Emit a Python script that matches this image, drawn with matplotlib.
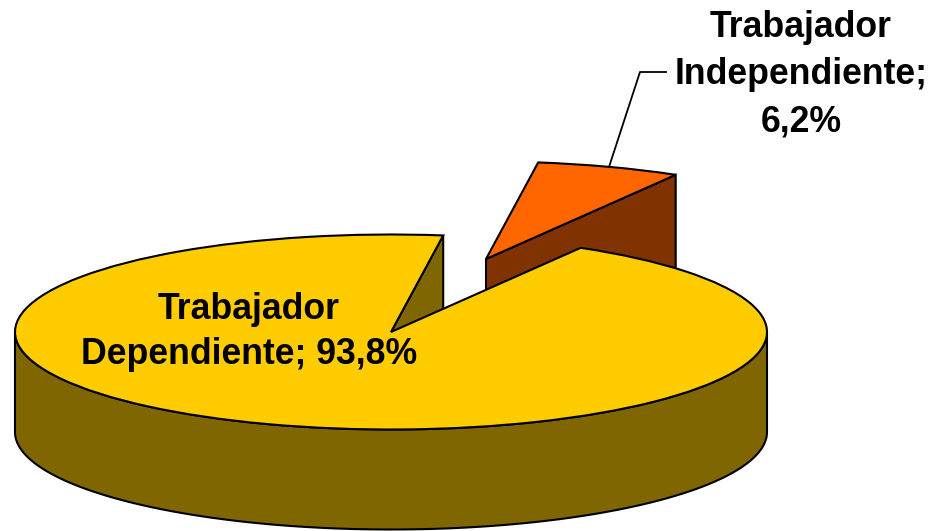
import numpy as np
import matplotlib
matplotlib.use('Agg')
import matplotlib.pyplot as plt
from matplotlib.patches import Wedge, Polygon
from matplotlib.transforms import Affine2D

labels = ['Trabajador\nDependiente; 93,8%', 'Trabajador\nIndependiente;\n6,2%']
values = [93.8, 6.2]
colors_top = ['#FFCC00', '#FF6600']
colors_side = ['#806600', '#803300']

plt.rcParams['font.family'] = ['Liberation Sans', 'DejaVu Sans']

# pie geometry in pixels
cx, cy = 391, 332
rx, ry = 376, 97.5
depth = 100
start = 59.7
explode = (95, -73)


def rim(a, ox=0, oy=0):
    a = np.radians(a)
    return np.column_stack([cx + ox + rx * np.cos(a), cy + oy - ry * np.sin(a)])


def top(a1, a2, color, ox=0, oy=0):
    # y axis is inverted, so flip the unit circle
    tr = Affine2D().scale(rx, -ry).translate(cx + ox, cy + oy) + ax.transData
    ax.add_patch(Wedge((0, 0), 1, a1, a2, transform=tr, fc=color, ec='black', lw=1.5))


def wall(a, color, ox=0, oy=0):
    p = rim(a, ox, oy)[0]
    c = (cx + ox, cy + oy)
    pts = [c, p, (p[0], p[1] + depth), (c[0], c[1] + depth)]
    ax.add_patch(Polygon(pts, fc=color, ec='black', lw=1.5))


fig = plt.figure(figsize=(9.34, 5.31), dpi=100)
ax = fig.add_axes([0, 0, 1, 1])
ax.set_xlim(0, 934)
ax.set_ylim(531, 0)
ax.axis('off')

sweep = np.array(values) / sum(values) * 360
small_a1 = start
small_a2 = start + sweep[1]
big_a1 = small_a2
big_a2 = big_a1 + sweep[0]

# exploded small slice goes behind the big one
wall(small_a1, colors_side[1], *explode)
top(small_a1, small_a2, colors_top[1], *explode)

# big slice: cut wall, outer rim, then the top face
wall(big_a1, colors_side[0])
arc = rim(np.linspace(180, 360, 200))
side = np.vstack([arc, (arc + [0, depth])[::-1]])
ax.add_patch(Polygon(side, fc=colors_side[0], ec='black', lw=1.5))
top(big_a1, big_a2, colors_top[0])

# leader line for the small slice
ax.plot([609, 640, 666], [167, 72, 72], color='black', lw=1.3)

ax.text(249, 332, labels[0], ha='center', va='center', fontsize=25.7, fontweight='bold',
        linespacing=1.36)
ax.text(801, 75, labels[1], ha='center', va='center', fontsize=25.7, fontweight='bold',
        linespacing=1.45)

fig.savefig('out.png', dpi=100)
